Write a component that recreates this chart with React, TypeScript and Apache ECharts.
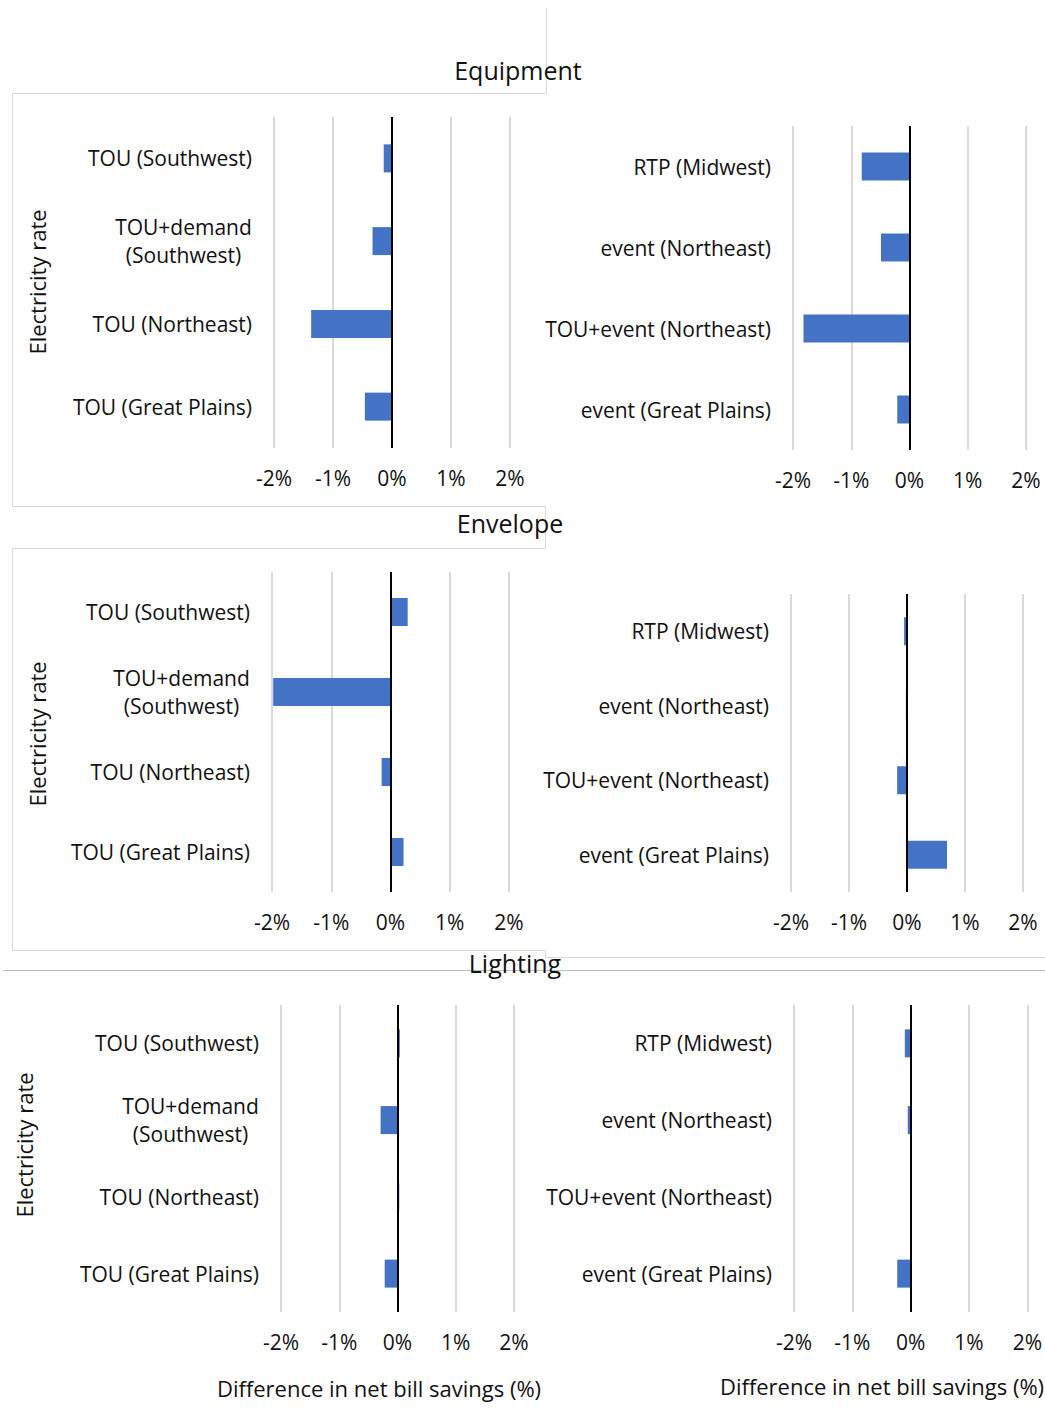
import React, { useEffect, useRef } from "react";
import * as echarts from "echarts";

const leftCategories = ["TOU (Southwest)", "TOU+demand\n(Southwest)", "TOU (Northeast)", "TOU (Great Plains)"];
const rightCategories = ["RTP (Midwest)", "event (Northeast)", "TOU+event (Northeast)", "event (Great Plains)"];

const equipmentLeft = [-0.14, -0.33, -1.37, -0.46];
const equipmentRight = [-0.82, -0.49, -1.82, -0.21];
const envelopeLeft = [0.29, -1.98, -0.15, 0.22];
const envelopeRight = [-0.05, -0.02, -0.17, 0.69];
const lightingLeft = [0.04, -0.29, 0.03, -0.22];
const lightingRight = [-0.1, -0.05, 0, -0.23];

const xMin = -2;
const xMax = 2;
const xInterval = 1;

const panelTitles = ["Equipment", "Envelope", "Lighting"];
const yAxisTitle = "Electricity rate";
const xAxisTitle = "Difference in net bill savings (%)";

const FONT = "'Open Sans', 'Noto Sans', sans-serif";
const TEXT = "#111";
const GRIDLINE = "#d9d9d9";
const BAR = "#4472C4";
const LABEL_SIZE = 21;

const panels = [
  { grid: { left: 274, top: 117, width: 236, height: 331 }, cats: leftCategories, data: equipmentLeft },
  { grid: { left: 793, top: 126, width: 233, height: 324 }, cats: rightCategories, data: equipmentRight },
  { grid: { left: 272, top: 572, width: 237, height: 320 }, cats: leftCategories, data: envelopeLeft },
  { grid: { left: 791, top: 594, width: 232, height: 298 }, cats: rightCategories, data: envelopeRight },
  { grid: { left: 281, top: 1005, width: 233, height: 307 }, cats: leftCategories, data: lightingLeft },
  { grid: { left: 794, top: 1005, width: 234, height: 307 }, cats: rightCategories, data: lightingRight },
];

function line(points: number[][], color = GRIDLINE, width = 1) {
  return {
    type: "polyline",
    shape: { points },
    style: { stroke: color, lineWidth: width, fill: null },
    silent: true,
  };
}

function text(str: string, x: number, y: number, size: number, rotation = 0) {
  return {
    type: "text",
    x,
    y,
    rotation,
    style: {
      text: str,
      fontSize: size,
      fontFamily: FONT,
      fill: TEXT,
      align: "center",
      verticalAlign: "middle",
    },
    silent: true,
  };
}

export default function App() {
  const ref = useRef<HTMLDivElement>(null);

  useEffect(() => {
    if (!ref.current) return;
    const chart = echarts.init(ref.current, undefined, { renderer: "svg" });

    const option: any = {
      animation: false,
      backgroundColor: "#fff",
      grid: panels.map((p) => ({ ...p.grid, containLabel: false })),
      xAxis: panels.map((p, i) => ({
        type: "value",
        gridIndex: i,
        min: xMin,
        max: xMax,
        interval: xInterval,
        axisLine: { show: false },
        axisTick: { show: false },
        splitLine: { show: true, lineStyle: { color: GRIDLINE, width: 2 } },
        axisLabel: {
          formatter: (v: number) => `${v}%`,
          fontSize: LABEL_SIZE,
          fontFamily: FONT,
          color: TEXT,
          margin: 19,
        },
      })),
      yAxis: panels.map((p, i) => ({
        type: "category",
        gridIndex: i,
        inverse: true,
        data: p.cats,
        axisLine: { show: false },
        axisTick: { show: false },
        splitLine: { show: false },
        axisLabel: {
          fontSize: LABEL_SIZE,
          fontFamily: FONT,
          color: TEXT,
          margin: 22,
          lineHeight: 28,
          formatter: (v: string) =>
            v.indexOf("\n") >= 0
              ? v
                  .split("\n")
                  .map((s) => `{c|${s}}`)
                  .join("\n")
              : v,
          rich: {
            c: { width: 137, align: "center", fontSize: LABEL_SIZE, fontFamily: FONT, color: TEXT, lineHeight: 28 },
          },
        },
      })),
      series: panels.map((p, i) => ({
        type: "bar",
        xAxisIndex: i,
        yAxisIndex: i,
        data: p.data,
        barWidth: 28,
        itemStyle: { color: BAR },
        markLine: {
          silent: true,
          symbol: "none",
          label: { show: false },
          lineStyle: { color: "#000", width: 2, type: "solid" },
          data: [{ xAxis: 0 }],
        },
      })),
      graphic: [
        line([[546.5, 8], [546.5, 93.5], [12.5, 93.5], [12.5, 506.5], [545.5, 506.5]]),
        line([[545.5, 506.5], [545.5, 548.5], [12.5, 548.5], [12.5, 950.5], [545.5, 950.5], [545.5, 957.5], [1045, 957.5]]),
        line([[3, 970.5], [1045, 970.5]], "#bfbfbf"),
        text(panelTitles[0], 518, 70, 25),
        text(panelTitles[1], 510, 523, 25),
        text(panelTitles[2], 515, 963, 25),
        text(yAxisTitle, 37, 282, 22, Math.PI / 2),
        text(yAxisTitle, 37, 734, 22, Math.PI / 2),
        text(yAxisTitle, 24, 1145, 22, Math.PI / 2),
        text(xAxisTitle, 379, 1388, 22),
        text(xAxisTitle, 882, 1386, 22),
      ],
    };

    chart.setOption(option);
    return () => chart.dispose();
  }, []);

  return (
    <div
      ref={ref}
      style={{ position: "absolute", left: 0, top: 0, width: 1045, height: 1422, background: "#fff" }}
    />
  );
}
